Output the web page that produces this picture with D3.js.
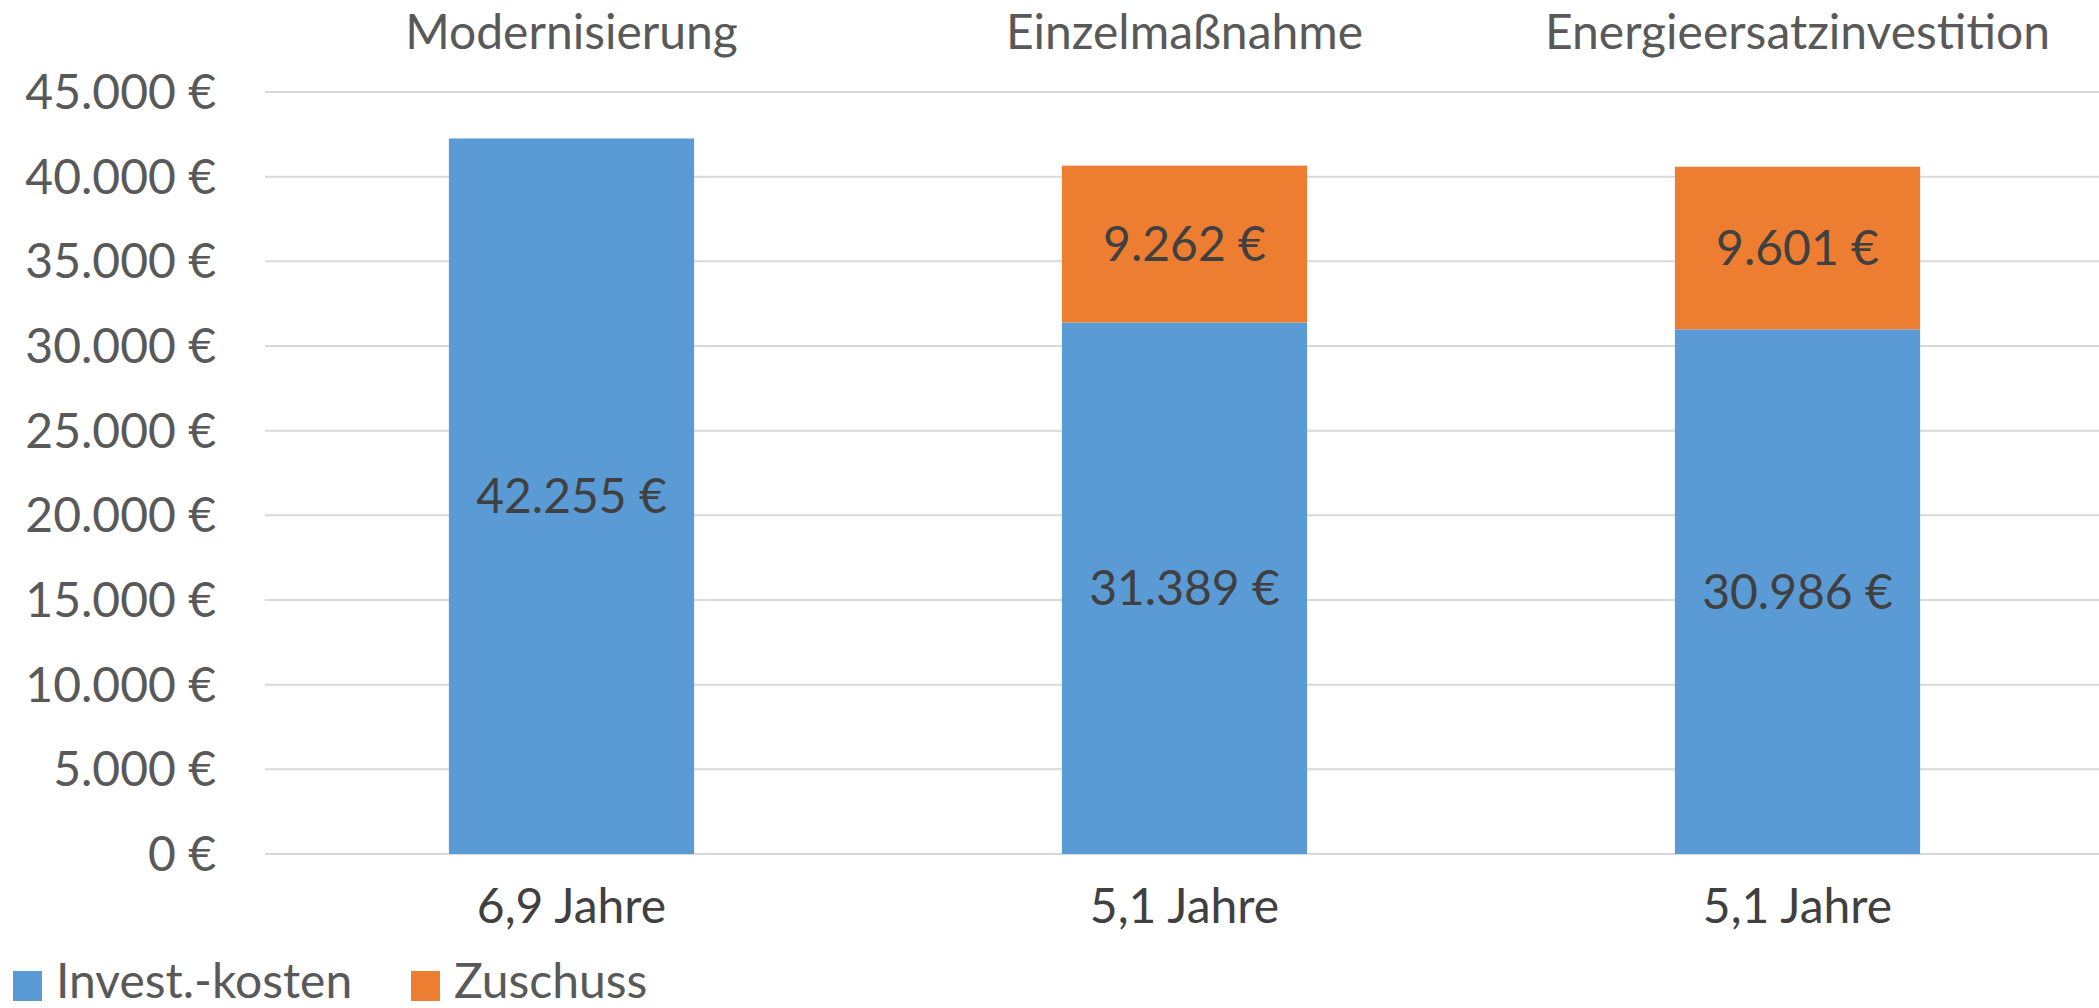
<!DOCTYPE html>
<html>
<head>
<meta charset="utf-8">
<script src="https://cdn.jsdelivr.net/npm/d3@7"></script>
<style>
  body { margin: 0; background: #fff; }
  text { font-family: Lato, "Open Sans", sans-serif; }
</style>
</head>
<body>
<svg id="chart" width="2099" height="1008"></svg>
<script>
// chart data
var categories = ["Modernisierung", "Einzelmaßnahme", "Energieersatzinvestition"];
var yearLabels = ["6,9 Jahre", "5,1 Jahre", "5,1 Jahre"];
var invest = [42255, 31389, 30986];
var zuschuss = [0, 9262, 9601];
var seriesNames = ["Invest.-kosten", "Zuschuss"];
var seriesColors = ["#5B9BD5", "#ED7D31"];
var yTicks = [0, 5000, 10000, 15000, 20000, 25000, 30000, 35000, 40000, 45000];

var svg = d3.select("#chart");

var plotLeft = 265, plotRight = 2104, plotTop = 92, plotBottom = 854;
var fs = 48;

var x = d3.scaleBand()
    .domain(categories)
    .range([plotLeft, plotRight])
    .paddingInner(0.6)
    .paddingOuter(0.3);

var y = d3.scaleLinear()
    .domain([0, 45000])
    .range([plotBottom, plotTop]);

var euro = function(v){
    return d3.format(",")(v).replace(/,/g, ".") + " €";
};

// gridlines
svg.append("g").selectAll("line")
    .data(yTicks)
    .enter().append("line")
    .attr("x1", plotLeft).attr("x2", 2099)
    .attr("y1", function(d){ return y(d); })
    .attr("y2", function(d){ return y(d); })
    .attr("stroke", "#d9d9d9")
    .attr("stroke-width", 2);

// y axis labels
svg.append("g").selectAll("text")
    .data(yTicks)
    .enter().append("text")
    .attr("x", 216)
    .attr("y", function(d){ return y(d) + 17; })
    .attr("text-anchor", "end")
    .attr("font-size", fs)
    .attr("fill", "#595959")
    .text(euro);

// stacked bars
var rows = categories.map(function(c, i){
    return { cat: c, invest: invest[i], zuschuss: zuschuss[i] };
});
var stack = d3.stack().keys(["invest", "zuschuss"])(rows);

var layers = svg.append("g").selectAll("g")
    .data(stack)
    .enter().append("g")
    .attr("fill", function(d, i){ return seriesColors[i]; });

layers.selectAll("rect")
    .data(function(d){ return d.filter(function(s){ return s[1] > s[0]; }); })
    .enter().append("rect")
    .attr("x", function(d){ return x(d.data.cat); })
    .attr("width", x.bandwidth())
    .attr("y", function(d){ return y(d[1]); })
    .attr("height", function(d){ return y(d[0]) - y(d[1]); });

// data labels
stack.forEach(function(layer){
    svg.append("g").selectAll("text")
        .data(layer.filter(function(s){ return s[1] > s[0]; }))
        .enter().append("text")
        .attr("x", function(d){ return x(d.data.cat) + x.bandwidth()/2; })
        .attr("y", function(d){ return (y(d[0]) + y(d[1]))/2 + 17; })
        .attr("text-anchor", "middle")
        .attr("font-size", fs)
        .attr("fill", "#404040")
        .text(function(d){ return euro(d[1] - d[0]); });
});

// category titles on top
svg.append("g").selectAll("text")
    .data(categories)
    .enter().append("text")
    .attr("x", function(d){ return x(d) + x.bandwidth()/2; })
    .attr("y", 49)
    .attr("text-anchor", "middle")
    .attr("font-size", fs)
    .attr("fill", "#595959")
    .text(function(d){ return d; });

// year labels under bars
svg.append("g").selectAll("text")
    .data(yearLabels)
    .enter().append("text")
    .attr("x", function(d, i){ return x(categories[i]) + x.bandwidth()/2; })
    .attr("y", 923)
    .attr("text-anchor", "middle")
    .attr("font-size", fs)
    .attr("fill", "#404040")
    .text(function(d){ return d; });

// legend
var legendX = [13, 411];
var legend = svg.append("g").selectAll("g")
    .data(seriesNames)
    .enter().append("g")
    .attr("transform", function(d, i){ return "translate(" + legendX[i] + ",971)"; });
legend.append("rect")
    .attr("width", 29).attr("height", 30)
    .attr("fill", function(d, i){ return seriesColors[i]; });
legend.append("text")
    .attr("x", 43).attr("y", 27)
    .attr("font-size", fs)
    .attr("fill", "#595959")
    .text(function(d){ return d; });
</script>
</body>
</html>
